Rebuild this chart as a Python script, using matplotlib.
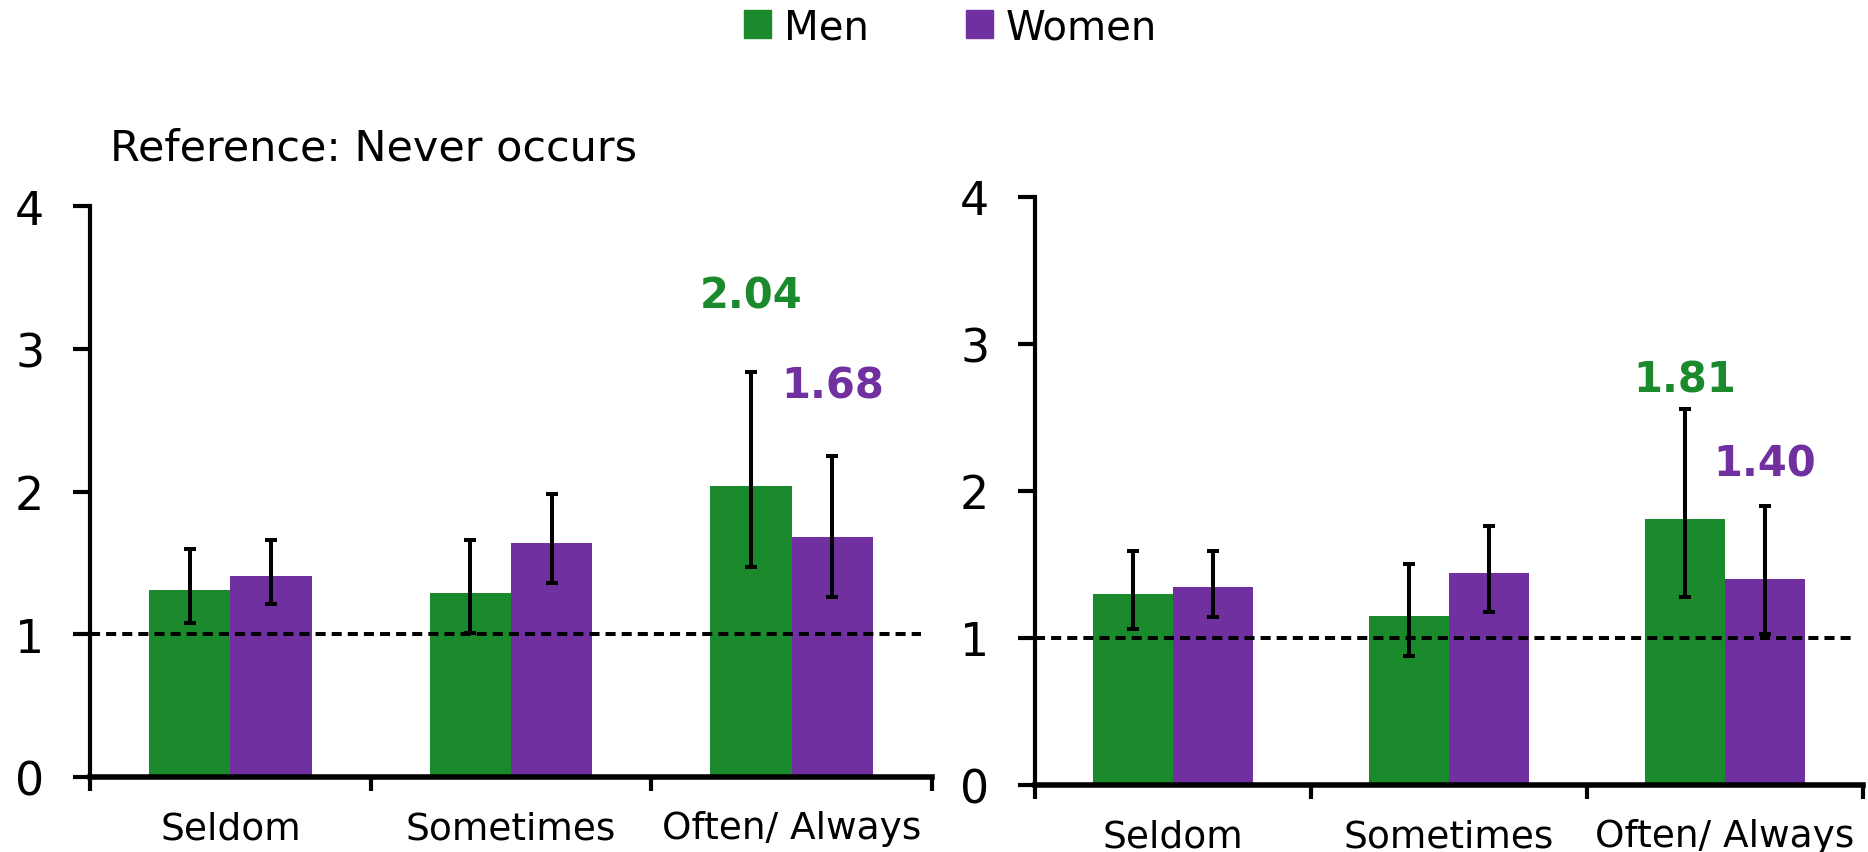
import numpy as np
import matplotlib.pyplot as plt
from matplotlib.patches import Patch

categories = ['Seldom', 'Sometimes', 'Often/ Always']

# left panel (reference: never occurs)
men_a = [1.31, 1.29, 2.04]
men_a_lo = [1.08, 1.01, 1.47]
men_a_hi = [1.60, 1.66, 2.84]
women_a = [1.41, 1.64, 1.68]
women_a_lo = [1.21, 1.36, 1.26]
women_a_hi = [1.66, 1.98, 2.25]

# right panel
men_b = [1.30, 1.15, 1.81]
men_b_lo = [1.06, 0.88, 1.28]
men_b_hi = [1.59, 1.50, 2.56]
women_b = [1.35, 1.44, 1.40]
women_b_lo = [1.14, 1.18, 1.03]
women_b_hi = [1.59, 1.76, 1.90]

GREEN = '#1A8A2D'
PURPLE = '#7030A0'
plt.rcParams['font.family'] = ['DejaVu Sans']


def draw_panel(ax, men, men_lo, men_hi, women, women_lo, women_hi, label_y, dash_end):
    x = np.arange(len(categories))
    w = 0.29
    ax.bar(x - w / 2, men, w, color=GREEN, zorder=2)
    ax.bar(x + w / 2, women, w, color=PURPLE, zorder=2)
    men_err = [np.array(men) - np.array(men_lo), np.array(men_hi) - np.array(men)]
    women_err = [np.array(women) - np.array(women_lo), np.array(women_hi) - np.array(women)]
    for xs, vals, err in [(x - w / 2, men, men_err), (x + w / 2, women, women_err)]:
        ax.errorbar(xs, vals, yerr=err, fmt='none', ecolor='black',
                    elinewidth=2.9, capsize=4.3, capthick=2.9, zorder=4)
    ax.axhline(1, xmin=0, xmax=dash_end, color='black', lw=2.9,
               dashes=(2.5, 1.5), zorder=3)

    # value labels for the last category
    ax.text(x[-1] - w / 2, label_y[0], f'{men[-1]:.2f}', color=GREEN,
            fontsize=30, fontweight='bold', ha='center', va='center')
    ax.text(x[-1] + w / 2, label_y[1], f'{women[-1]:.2f}', color=PURPLE,
            fontsize=30, fontweight='bold', ha='center', va='center')

    ax.set_xlim(-0.5, 2.5)
    ax.set_ylim(0, 4)
    ax.set_yticks([0, 1, 2, 3, 4])
    ax.set_xticks([-0.5, 0.5, 1.5, 2.5])
    ax.set_xticklabels([])
    ax.set_xticks(x, labels=categories, minor=True)
    ax.tick_params(axis='x', which='major', length=10, width=3, direction='out')
    ax.tick_params(axis='x', which='minor', length=0, pad=24, labelsize=27)
    ax.tick_params(axis='y', length=12, width=3, pad=21, labelsize=33)
    for s in ['top', 'right']:
        ax.spines[s].set_visible(False)
    ax.spines['left'].set_linewidth(3)
    ax.spines['bottom'].set_linewidth(4)
    ax.spines['bottom'].set_zorder(5)


fig = plt.figure(figsize=(18.68, 8.53), dpi=100)
ax1 = fig.add_axes([0.0482, 0.0879, 0.4507, 0.6694])
ax2 = fig.add_axes([0.5541, 0.0786, 0.4433, 0.6893])

draw_panel(ax1, men_a, men_a_lo, men_a_hi, women_a, women_a_lo, women_a_hi,
           label_y=[3.375, 2.74], dash_end=0.987)
draw_panel(ax2, men_b, men_b_lo, men_b_hi, women_b, women_b_lo, women_b_hi,
           label_y=[2.755, 2.19], dash_end=0.987)

fig.text(110 / 1868, 0.8113, 'Reference: Never occurs', fontsize=31,
         ha='left', va='baseline')

handles = [Patch(color=GREEN, label='Men'), Patch(color=PURPLE, label='Women')]
fig.legend(handles=handles, loc='center', bbox_to_anchor=(0.5088, 0.967),
           ncol=2, frameon=False, fontsize=29, handlelength=0.67,
           handleheight=0.67, handletextpad=0.32, columnspacing=2.4,
           borderpad=0, borderaxespad=0)

fig.savefig('out.png', dpi=100)
